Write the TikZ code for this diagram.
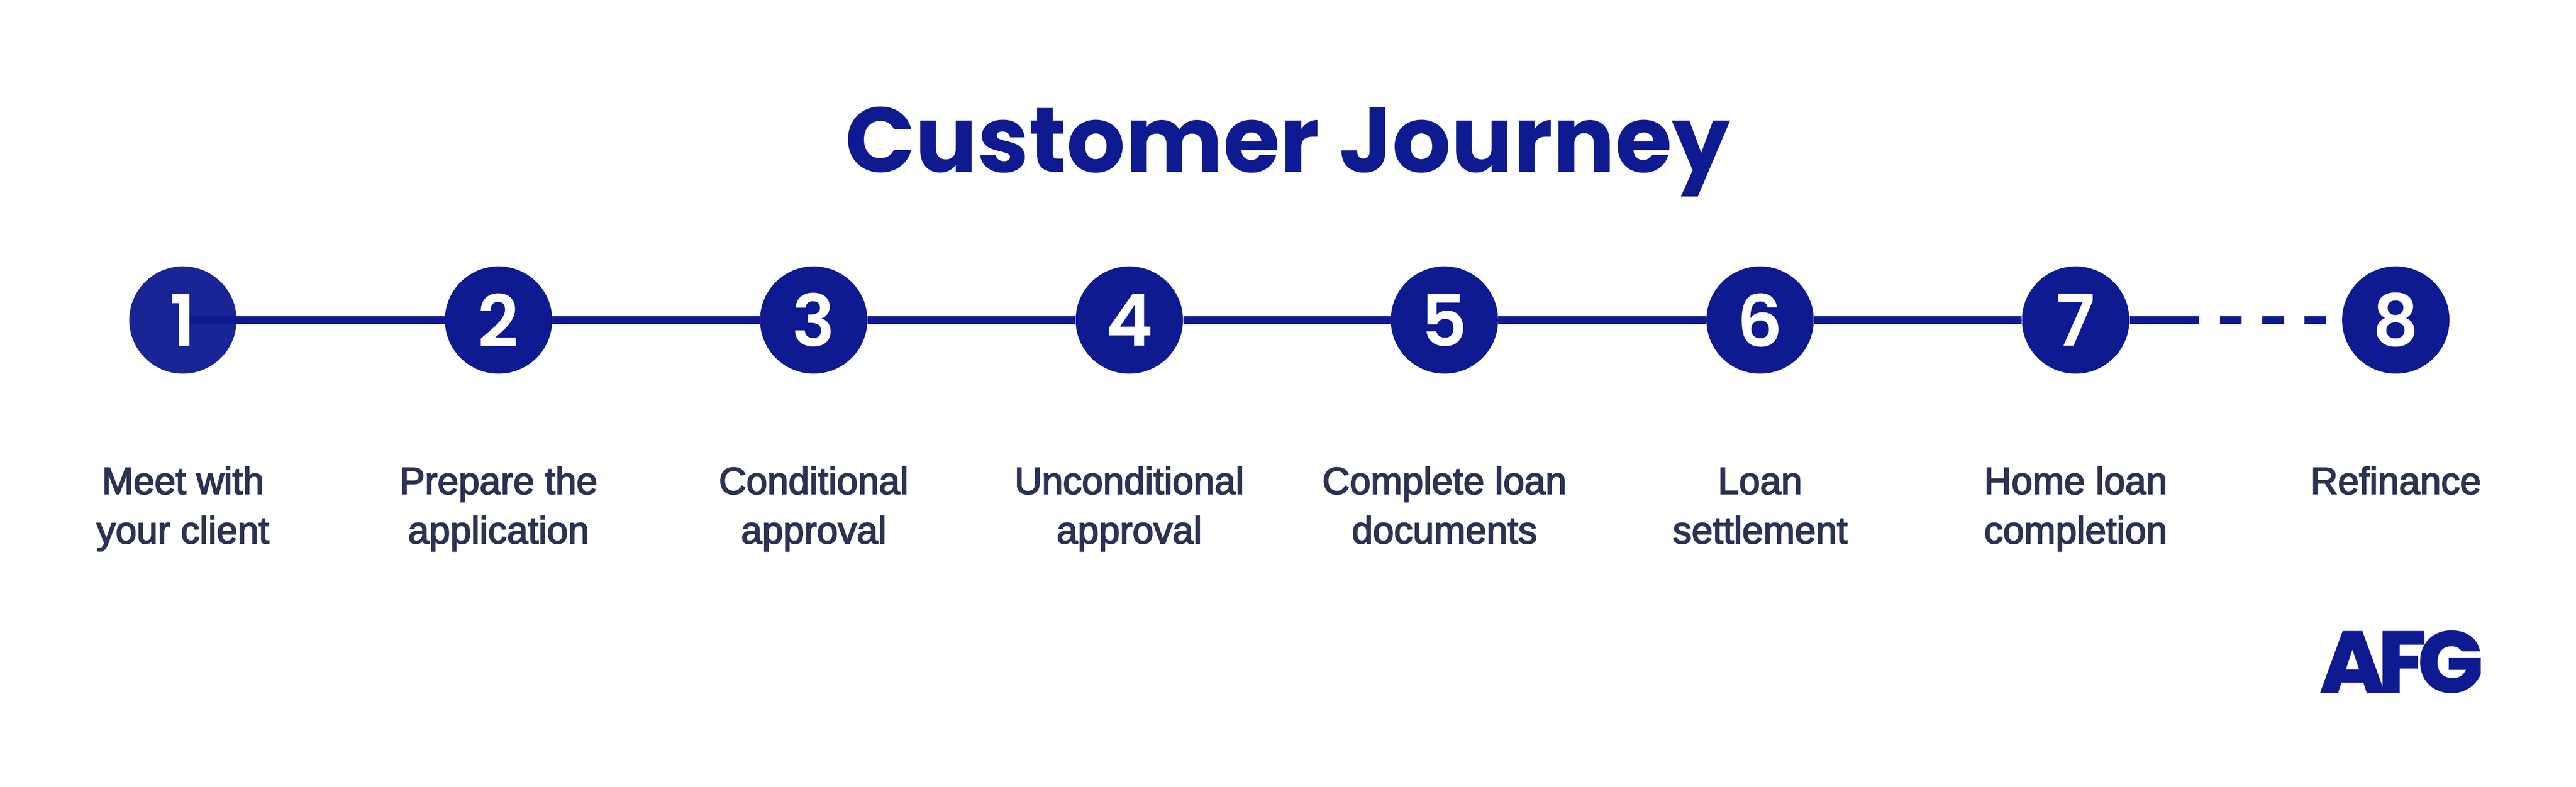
\documentclass[tikz,border=0pt]{standalone}
\usepackage{fontspec}
\setmainfont{Liberation Sans}
\newfontfamily\titlefont{Poppins}[UprightFont=* Bold]
\newfontfamily\numfont{Poppins}[UprightFont=* SemiBold]
\newfontfamily\logofont{Poppins}[UprightFont=* ExtraBold]
\newfontfamily\labelfont{Liberation Sans}[FakeBold=3]
\definecolor{afgblue}{HTML}{0E1A90}
\definecolor{labelink}{HTML}{2B3252}
\begin{document}
\begin{tikzpicture}
    \tikzstyle{stepnum}=[circle,fill=afgblue,text=white,minimum size=2.37cm,inner sep=0pt,font=\numfont\fontsize{45}{45}\selectfont]
    \tikzstyle{steptext}=[anchor=north,inner sep=0pt,align=center,text=labelink,font=\labelfont\fontsize{23.8}{31}\selectfont]
    \tikzstyle{link}=[draw=afgblue,line width=0.165cm]

    \useasboundingbox[fill=white] (0,0) rectangle (56.89,17.38);

    \node[anchor=base,text=afgblue,font=\titlefont\fontsize{58}{58}\selectfont] at (28.44,13.57) (title) {Customer Journey};

    \coordinate (c1) at (4.04,10.31);
    \node[stepnum] at (11.01,10.31) (s2) {2};
    \node[stepnum] at (17.97,10.31) (s3) {3};
    \node[stepnum] at (24.94,10.31) (s4) {4};
    \node[stepnum] at (31.90,10.31) (s5) {5};
    \node[stepnum] at (38.87,10.31) (s6) {6};
    \node[stepnum] at (45.84,10.31) (s7) {7};
    \node[stepnum] at (52.91,10.31) (s8) {8};
    \coordinate (d0) at (48.56,10.31);
    \coordinate (d1) at (49.03,10.31);

    \draw[link] (c1) -- (s2);
    \draw[link] (s2) -- (s3);
    \draw[link] (s3) -- (s4);
    \draw[link] (s4) -- (s5);
    \draw[link] (s5) -- (s6);
    \draw[link] (s6) -- (s7);
    \draw[link] (s7) -- (d0);
    \draw[link,dash pattern=on 0.47cm off 0.463cm] (d1) -- (s8);

    % first circle sits over the line
    \node[stepnum,fill opacity=0.95,text opacity=1] at (4.04,10.31) (s1) {1};

    \node[steptext] at (4.04,7.08) (t1) {Meet with\\your client};
    \node[steptext] at (11.01,7.08) (t2) {Prepare the\\application};
    \node[steptext] at (17.97,7.08) (t3) {Conditional\\approval};
    \node[steptext] at (24.94,7.08) (t4) {Unconditional\\approval};
    \node[steptext] at (31.90,7.08) (t5) {Complete loan\\documents};
    \node[steptext] at (38.87,7.08) (t6) {\vphantom{l}Loan\\settlement};
    \node[steptext] at (45.84,7.08) (t7) {Home loan\\completion};
    \node[steptext] at (52.91,7.08) (t8) {Refinance};

    \node[text=afgblue,inner sep=0pt,font=\logofont\fontsize{55}{55}\selectfont] at (53.04,2.75) (logo) {A\kern-0.09em F\kern-0.11em G};
\end{tikzpicture}
\end{document}
